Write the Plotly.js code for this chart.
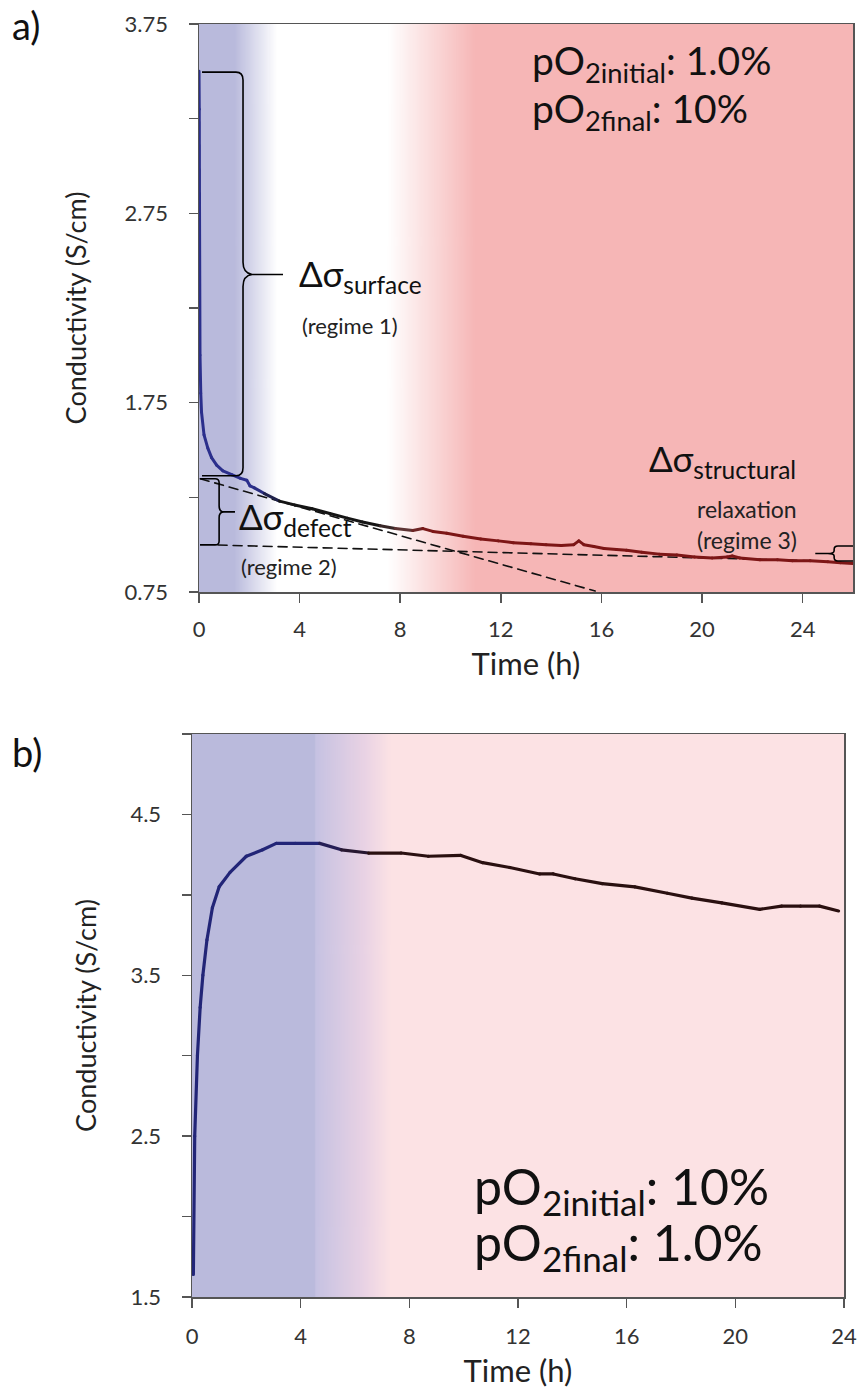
<!DOCTYPE html>
<html><head><meta charset="utf-8">
<script src="https://cdn.plot.ly/plotly-3.0.1.min.js"></script>
<style>
body{margin:0;background:#fff}
#chart{width:864px;height:1395px}
#chart .scatterlayer .js-line{stroke-linecap:round;stroke-linejoin:round}
</style>
</head><body><div id="chart"></div>
<script>
// ---------- Panel a data ----------
const timeA = [0, 0.01, 0.02, 0.04, 0.07, 0.1, 0.2, 0.35, 0.5, 0.7, 0.95, 1.3, 1.65, 1.9, 2.03, 2.2, 2.6, 3.2, 3.8, 4.5, 5.2, 5.9, 6.5, 7.2, 7.8, 8.5, 8.9, 9.3, 9.85, 10.5, 11.2, 11.9, 12.5, 13.2, 13.8, 14.4, 14.9, 15.1, 15.3, 15.7, 16.1, 16.6, 17.0, 17.6, 18.3, 19.0, 19.7, 20.4, 21.0, 21.2, 21.5, 22.3, 23.0, 23.6, 24.3, 25.0, 25.5, 26.0];
const condA = [3.50, 3.30, 2.80, 2.00, 1.80, 1.70, 1.58, 1.51, 1.46, 1.42, 1.39, 1.37, 1.35, 1.34, 1.31, 1.30, 1.27, 1.23, 1.21, 1.19, 1.165, 1.14, 1.12, 1.10, 1.085, 1.075, 1.085, 1.07, 1.06, 1.045, 1.03, 1.02, 1.01, 1.005, 1.00, 0.995, 1.00, 1.02, 1.00, 0.99, 0.98, 0.975, 0.97, 0.96, 0.95, 0.945, 0.935, 0.93, 0.935, 0.94, 0.93, 0.92, 0.92, 0.915, 0.915, 0.91, 0.905, 0.90];
// tangent (dashed) fit lines
const fitDefectTime = [0.05, 15.75];
const fitDefectCond = [1.348, 0.755];
const fitStructTime = [0.76, 24.6];
const fitStructCond = [0.998, 0.914];
const xTicksA = [0, 4, 8, 12, 16, 20, 24];
const yTicksA = [0.75, 1.75, 2.75, 3.75];
const yMinorTicksA = [1.25, 2.25, 3.25];

// ---------- Panel b data ----------
const timeB = [0.05, 0.1, 0.2, 0.3, 0.4, 0.55, 0.75, 1.0, 1.4, 2.0, 2.6, 3.1, 3.8, 4.7, 5.5, 6.5, 7.7, 8.7, 9.9, 10.7, 11.7, 12.8, 13.3, 14.1, 15.1, 16.3, 17.5, 18.4, 19.5, 20.9, 21.7, 22.4, 23.1, 23.8];
const condB = [1.64, 2.5, 3.0, 3.3, 3.5, 3.72, 3.92, 4.05, 4.14, 4.24, 4.28, 4.32, 4.32, 4.32, 4.28, 4.26, 4.26, 4.24, 4.245, 4.20, 4.17, 4.13, 4.13, 4.10, 4.07, 4.05, 4.01, 3.98, 3.95, 3.91, 3.93, 3.93, 3.93, 3.90];
const xTicksB = [0, 4, 8, 12, 16, 20, 24];
const yTicksB = [1.5, 2.5, 3.5, 4.5];
const yMinorTicksB = [2.0, 3.0, 4.0, 5.0];

// ---------- styling ----------
const FONT = "Lato, 'Open Sans', 'DejaVu Sans', sans-serif";
const lineStopsA = [[0,'#2b2f8c'],[2.3,'#2b2f8c'],[3.4,'#151515'],[7.0,'#151515'],[8.0,'#5a3838'],[9.2,'#7d1616'],[26,'#7d1616']];
const lineStopsB = [[0,'#222577'],[4.3,'#222577'],[6.8,'#2a1010'],[24,'#2a1010']];
const bgStopsA = [[0,'rgb(185,186,220)'],[1.4,'rgb(185,186,220)'],[3.1,'rgb(255,255,255)'],[7.5,'rgb(255,255,255)'],[11.0,'rgb(246,182,182)'],[26,'rgb(246,182,182)']];
const bgStopsB = [[0,'rgb(186,186,220)'],[4.5,'rgb(186,186,220)'],[4.56,'rgb(198,194,226)'],[6.3,'rgb(232,210,228)'],[7.3,'rgb(252,226,228)'],[24,'rgb(252,226,228)']];

function hexToRgb(h){h=h.replace('#','');return [parseInt(h.substr(0,2),16),parseInt(h.substr(2,2),16),parseInt(h.substr(4,2),16)];}
function colorAt(t, stops){
  for(let i=0;i<stops.length-1;i++){
    const [t0,c0]=stops[i],[t1,c1]=stops[i+1];
    if(t>=t0&&t<=t1){
      const f=(t1===t0)?0:(t-t0)/(t1-t0);
      const a=hexToRgb(c0),b=hexToRgb(c1);
      return 'rgb('+a.map((v,k)=>Math.round(v+(b[k]-v)*f)).join(',')+')';
    }
  }
  return stops[stops.length-1][1];
}
function gradientURL(stops, range){
  const c=document.createElement('canvas');c.width=1200;c.height=4;
  const ctx=c.getContext('2d');const g=ctx.createLinearGradient(0,0,1200,0);
  stops.forEach(([t,col])=>g.addColorStop(Math.min(1,t/range),col));
  ctx.fillStyle=g;ctx.fillRect(0,0,1200,4);return c.toDataURL();
}
function segments(xs, ys, stops, xa, ya, w){
  const out=[];
  for(let i=0;i<xs.length-1;i++){
    out.push({x:[xs[i],xs[i+1]],y:[ys[i],ys[i+1]],xaxis:xa,yaxis:ya,type:'scatter',mode:'lines',
      line:{color:colorAt((xs[i]+xs[i+1])/2,stops),width:w},hoverinfo:'skip',showlegend:false});
  }
  return out;
}

const traces = [
  {x:fitDefectTime,y:fitDefectCond,xaxis:'x',yaxis:'y',type:'scatter',mode:'lines',line:{color:'#111',width:1.6,dash:'9px,6px'},hoverinfo:'skip'},
  {x:fitStructTime,y:fitStructCond,xaxis:'x',yaxis:'y',type:'scatter',mode:'lines',line:{color:'#111',width:1.6,dash:'9px,6px'},hoverinfo:'skip'},
  ...segments(timeA,condA,lineStopsA,'x','y',3),
  ...segments(timeB,condB,lineStopsB,'x2','y2',3.2)
];

const axisCommon = {showgrid:false,zeroline:false,showline:true,mirror:true,linecolor:'#555',linewidth:1.5,
  ticks:'outside',ticklen:9,tickwidth:1.5,tickcolor:'#555',tickfont:{family:FONT,size:22,color:'#333'},automargin:false,fixedrange:true};
const minorCommon = {tickmode:'array',ticks:'outside',ticklen:9,tickwidth:1.5,tickcolor:'#555',showgrid:false};

const braceLine = {color:'#000',width:1.6};
const layout = {
  width:864,height:1395,margin:{l:0,r:0,t:0,b:0},paper_bgcolor:'#fff',plot_bgcolor:'#fff',showlegend:false,
  font:{family:FONT,color:'#111'},
  xaxis:Object.assign({},axisCommon,{domain:[199/864,853/864],range:[0,26],tickvals:xTicksA,anchor:'y',ticklabelstandoff:8,
    title:{text:'Time (h)',font:{family:FONT,size:31,color:'#222'},standoff:12}}),
  yaxis:Object.assign({},axisCommon,{domain:[1-592/1395,1-24/1395],range:[0.75,3.75],tickvals:yTicksA,anchor:'x',ticklabelstandoff:16,
    minor:Object.assign({},minorCommon,{tickvals:yMinorTicksA}),
    title:{text:'Conductivity (S/cm)',font:{family:FONT,size:27,color:'#222'},standoff:30}}),
  xaxis2:Object.assign({},axisCommon,{domain:[192/864,844/864],range:[0,24],tickvals:xTicksB,anchor:'y2',ticklabelstandoff:10,
    title:{text:'Time (h)',font:{family:FONT,size:31,color:'#222'},standoff:12}}),
  yaxis2:Object.assign({},axisCommon,{domain:[1-1297/1395,1-734/1395],range:[1.5,5.0],tickvals:yTicksB,anchor:'x2',ticklabelstandoff:16,
    minor:Object.assign({},minorCommon,{tickvals:yMinorTicksB}),
    title:{text:'Conductivity (S/cm)',font:{family:FONT,size:27,color:'#222'},standoff:26}}),
  images:[
    {source:gradientURL(bgStopsA,26),xref:'x',yref:'y',x:0,y:3.75,sizex:26,sizey:3.0,sizing:'stretch',xanchor:'left',yanchor:'top',layer:'below'},
    {source:gradientURL(bgStopsB,24),xref:'x2',yref:'y2',x:0,y:5.0,sizex:24,sizey:3.5,sizing:'stretch',xanchor:'left',yanchor:'top',layer:'below'}
  ],
  shapes:[
    // Δσ surface brace
    {type:'path',xref:'x',yref:'y',line:braceLine,
     path:'M 0.12,3.496 L 1.47,3.496 Q 1.75,3.496 1.75,3.454 L 1.75,2.491 Q 1.75,2.433 2.11,2.427 L 3.34,2.427 M 2.11,2.427 Q 1.75,2.421 1.75,2.364 L 1.75,1.406 Q 1.75,1.364 1.47,1.364 L 0.12,1.364'},
    // Δσ defect brace
    {type:'path',xref:'x',yref:'y',line:braceLine,
     path:'M 0.04,1.348 L 0.64,1.348 Q 0.8,1.348 0.8,1.327 L 0.8,1.204 Q 0.8,1.173 0.99,1.173 L 1.43,1.173 M 0.99,1.173 Q 0.8,1.173 0.8,1.142 L 0.8,1.02 Q 0.8,0.999 0.64,0.999 L 0.04,0.999'},
    // Δσ structural relaxation brace
    {type:'path',xref:'x',yref:'y',line:braceLine,
     path:'M 26,0.993 L 25.4,0.993 Q 25.25,0.993 25.25,0.975 L 25.25,0.968 Q 25.25,0.953 25.0,0.953 L 24.5,0.953 M 25.0,0.953 Q 25.25,0.953 25.25,0.94 L 25.25,0.932 Q 25.25,0.914 25.4,0.914 L 26,0.914'}
  ],
  annotations:[
    {text:'a)',xref:'paper',yref:'paper',x:10/864,y:1-25/1395,xanchor:'left',yanchor:'middle',showarrow:false,font:{family:FONT,size:38,color:'#111'}},
    {text:'b)',xref:'paper',yref:'paper',x:10/864,y:1-752/1395,xanchor:'left',yanchor:'middle',showarrow:false,font:{family:FONT,size:38,color:'#111'}},
    {text:'pO<sub>2initial</sub>: 1.0%',xref:'x',yref:'y',x:13.15,y:3.545,xanchor:'left',yanchor:'middle',showarrow:false,font:{family:FONT,size:39,color:'#111'}},
    {text:'pO<sub>2final</sub>: 10%',xref:'x',yref:'y',x:13.15,y:3.29,xanchor:'left',yanchor:'middle',showarrow:false,font:{family:FONT,size:39,color:'#111'}},
    {text:'Δσ<sub>surface</sub>',xref:'x',yref:'y',x:3.9,y:2.42,xanchor:'left',yanchor:'middle',showarrow:false,font:{family:FONT,size:35,color:'#111'}},
    {text:'(regime 1)',xref:'x',yref:'y',x:4.0,y:2.155,xanchor:'left',yanchor:'middle',showarrow:false,font:{family:FONT,size:22,color:'#222'}},
    {text:'Δσ<sub>defect</sub>',xref:'x',yref:'y',x:1.5,y:1.14,xanchor:'left',yanchor:'middle',showarrow:false,font:{family:FONT,size:35,color:'#111'}},
    {text:'(regime 2)',xref:'x',yref:'y',x:1.6,y:0.885,xanchor:'left',yanchor:'middle',showarrow:false,font:{family:FONT,size:22,color:'#222'}},
    {text:'Δσ<sub>structural</sub>',xref:'x',yref:'y',x:17.8,y:1.445,xanchor:'left',yanchor:'middle',showarrow:false,font:{family:FONT,size:35,color:'#111'}},
    {text:'relaxation',xref:'x',yref:'y',x:21.8,y:1.19,xanchor:'center',yanchor:'middle',showarrow:false,font:{family:FONT,size:23,color:'#222'}},
    {text:'(regime 3)',xref:'x',yref:'y',x:21.8,y:1.025,xanchor:'center',yanchor:'middle',showarrow:false,font:{family:FONT,size:23,color:'#222'}},
    {text:'pO<sub>2initial</sub>: 10%',xref:'x2',yref:'y2',x:10.3,y:2.17,xanchor:'left',yanchor:'middle',showarrow:false,font:{family:FONT,size:50,color:'#111'}},
    {text:'pO<sub>2final</sub>: 1.0%',xref:'x2',yref:'y2',x:10.3,y:1.82,xanchor:'left',yanchor:'middle',showarrow:false,font:{family:FONT,size:50,color:'#111'}}
  ]
};
Plotly.newPlot('chart',traces,layout,{staticPlot:true,displayModeBar:false});
</script>
</body></html>
